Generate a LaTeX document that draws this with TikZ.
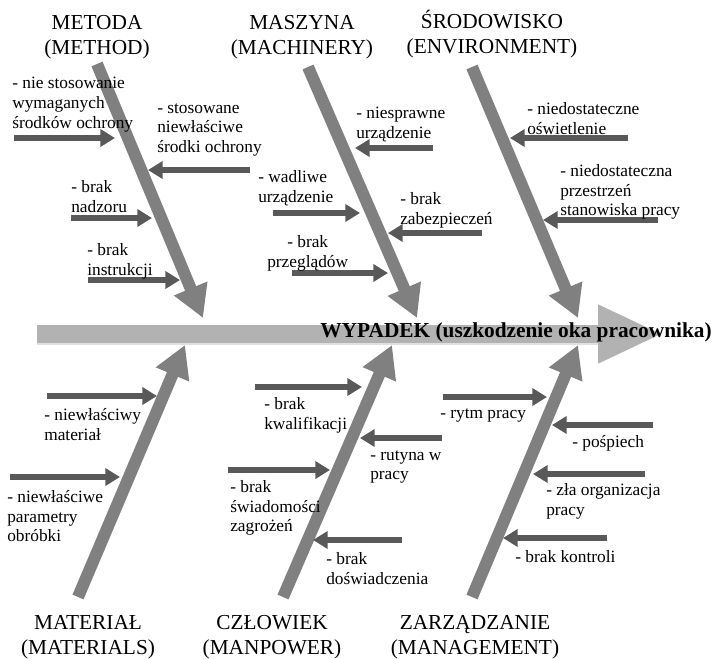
\documentclass[tikz,border=0pt]{standalone}
\usepackage{fontspec}
\setmainfont{Liberation Serif}
\usetikzlibrary{arrows.meta}

\begin{document}
\begin{tikzpicture}[x=0.75pt,y=-0.75pt,
  bone/.style={draw=black!50,line width=9pt,-{Triangle[length=24pt,width=25.5pt]}},
  twig/.style={draw=black!65,line width=4.1pt,-{Triangle[length=11pt,width=12.75pt]}},
  cause/.style={font=\fontsize{13}{14.8}\selectfont,align=left,anchor=north west,inner sep=0pt},
  group/.style={font=\fontsize{16}{18.75}\selectfont,align=center,anchor=north,inner sep=0pt}]

\useasboundingbox (0,0) rectangle (713,658);

%spine
\coordinate (S)  at (37,334);
\coordinate (S') at (663,334);
\coordinate (U)  at (37,344);
\coordinate (U') at (598,344);
\draw[draw=black!12,line width=1.2pt] (U) -- (U');
\draw[draw=black!30,line width=13.5pt,-{Triangle[length=48.75pt,width=40.5pt]}] (S) -- (S');
\node[font=\bfseries\fontsize{16}{19}\selectfont,anchor=base east,inner sep=0pt] (W) at (712,337) {WYPADEK (uszkodzenie oka pracownika)};

%bones (top)
\coordinate (M)  at (97,64);
\coordinate (M') at (203,318);
\coordinate (Q)  at (308,67);
\coordinate (Q') at (417,318);
\coordinate (E)  at (472,67);
\coordinate (E') at (578,318);
%bones (bottom)
\coordinate (L)  at (78,597);
\coordinate (L') at (185,345);
\coordinate (P)  at (283,597);
\coordinate (P') at (392,345);
\coordinate (Z)  at (472,597);
\coordinate (Z') at (578,345);
\foreach \a/\b in {M/M',Q/Q',E/E',L/L',P/P',Z/Z'}{
    \draw[bone] (\a) -- (\b);
}

%group labels
\node[group] (metoda)      at (97,15)  {METODA\\(METHOD)};
\node[group] (maszyna)     at (302,15) {MASZYNA\\(MACHINERY)};
\node[group] (srodowisko)  at (492,10) {ŚRODOWISKO\\(ENVIRONMENT)};
\node[group] (material)    at (88,615) {MATERIAŁ\\(MATERIALS)};
\node[group] (czlowiek)    at (272,615) {CZŁOWIEK\\(MANPOWER)};
\node[group] (zarzadzanie) at (475,615) {ZARZĄDZANIE\\(MANAGEMENT)};

%twigs: number/from/to/height
\foreach \n/\a/\b/\y in {1/14/115/138,2/250/148/170,3/71/152/218,4/88/180/280,
    5/433/355/148,6/273/360/213,7/482/388/233,8/292/388/273,
    9/628/510/138,10/658/543/220,
    11/47/157/396,12/10/120/477,
    13/255/362/387,14/442/360/438,15/228/330/470,16/402/313/540,
    17/443/547/397,18/653/552/425,19/645/533/474,20/607/503/538}{
    \coordinate (T\n)  at (\a,\y);
    \coordinate (T\n') at (\b,\y);
    \draw[twig] (T\n) -- (T\n');
}

%causes
\node[cause] (c1)  at (12,77)   {- nie stosowanie\\wymaganych\\środków ochrony};
\node[cause] (c2)  at (157,103) {- stosowane\\niewłaściwe\\środki ochrony};
\node[cause] (c3)  at (71,180)  {- brak\\nadzoru};
\node[cause] (c4)  at (87,243)  {- brak\\instrukcji};
\node[cause] (c5)  at (356,107) {- niesprawne\\urządzenie};
\node[cause] (c6)  at (258,170) {- wadliwe\\urządzenie};
\node[cause] (c7)  at (400,192) {- brak\\zabezpieczeń};
\node[cause] (c8)  at (267,235) {\hspace*{15pt}- brak\\przeglądów};
\node[cause] (c9)  at (527,102) {- niedostateczne\\oświetlenie};
\node[cause] (c10) at (560,164) {- niedostateczna\\przestrzeń\\stanowiska pracy};
\node[cause] (c11) at (44,408)  {- niewłaściwy\\materiał};
\node[cause] (c12) at (7,490)   {- niewłaściwe\\parametry\\obróbki};
\node[cause] (c13) at (264,397) {- brak\\kwalifikacji};
\node[cause] (c14) at (370,450) {- rutyna w\\pracy};
\node[cause] (c15) at (230,480) {- brak\\świadomości\\zagrożeń};
\node[cause] (c16) at (326,552) {- brak\\doświadczenia};
\node[cause] (c17) at (440,408) {- rytm pracy};
\node[cause] (c18) at (572,435) {- pośpiech};
\node[cause] (c19) at (546,483) {- zła organizacja\\pracy};
\node[cause] (c20) at (515,550) {- brak kontroli};

\end{tikzpicture}
\end{document}
